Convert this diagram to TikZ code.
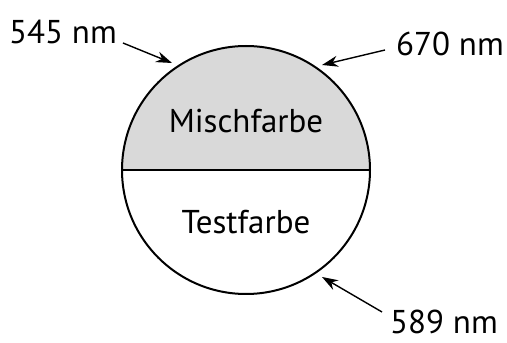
\documentclass[tikz,border=0pt]{standalone}
\usepackage{fontspec}
\setmainfont{PT Sans}
\usetikzlibrary{arrows.meta}
\begin{document}
\begin{tikzpicture}[x=1pt,y=1pt,
  lbl/.style={font=\fontsize{33}{36}\selectfont, inner sep=0pt},
  ptr/.style={line width=1.4pt, -{Stealth[length=16pt,width=11pt]}}]
\useasboundingbox (0,0) rectangle (507,343);
\coordinate (c) at (246,173);
\fill[gray!30] (122,173) arc[start angle=180,end angle=0,radius=124] -- cycle;
\draw[line width=2pt] (c) circle[radius=124];
\draw[line width=2.2pt] (122,173) -- (370,173);
\node[lbl] (m) at (246,222) {Mischfarbe};
\node[lbl] (t) at (246,121) {Testfarbe};
\node[lbl] (a) at (63,311) {545 nm};
\node[lbl] (b) at (450,299) {670 nm};
\node[lbl] (d) at (444,21) {589 nm};
\coordinate (a1) at (123,300);
\coordinate (b1) at (385,293);
\coordinate (d1) at (382,31);
\coordinate (a2) at (172,280);
\coordinate (b2) at (322,278);
\coordinate (d2) at (322,66);
\draw[ptr] (a1) -- (a2);
\draw[ptr] (b1) -- (b2);
\draw[ptr] (d1) -- (d2);
\end{tikzpicture}
\end{document}
